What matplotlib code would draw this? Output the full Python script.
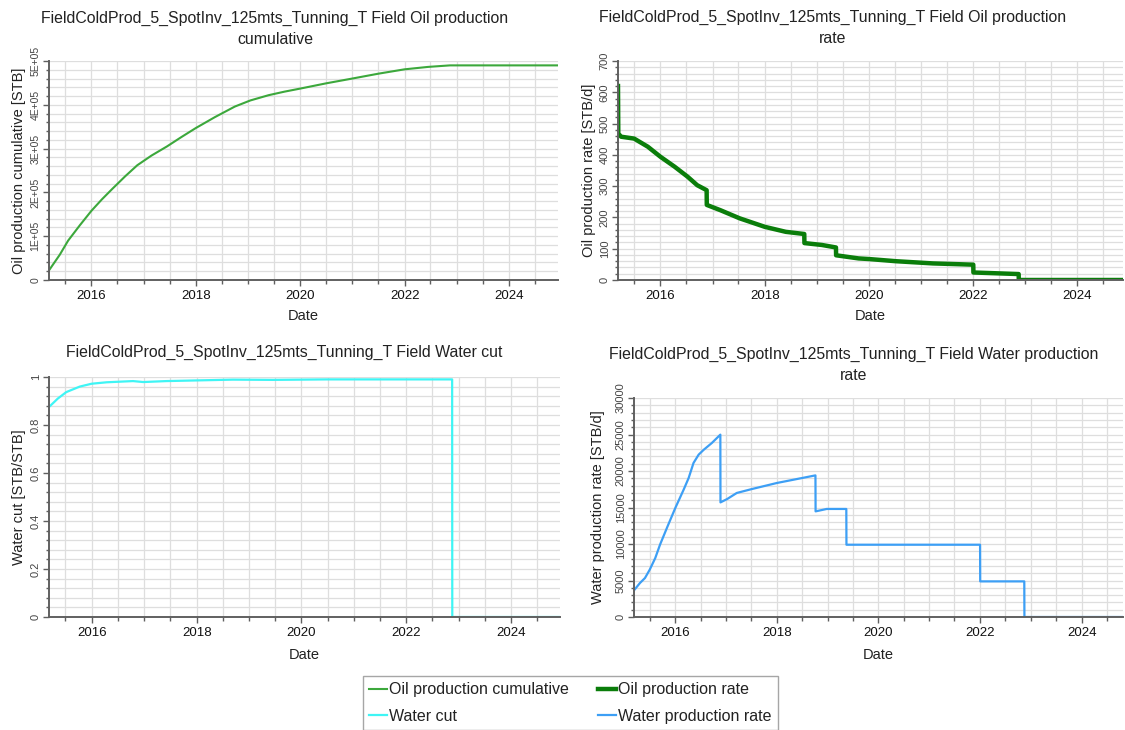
import matplotlib
matplotlib.use("Agg")
import matplotlib.pyplot as plt
import matplotlib.dates as mdates
from matplotlib.ticker import MultipleLocator, AutoMinorLocator, FuncFormatter
from matplotlib.lines import Line2D
import pandas as pd

plt.rcParams['font.family'] = ['Liberation Sans', 'DejaVu Sans']

case = "FieldColdProd_5_SpotInv_125mts_Tunning_T"

# Field oil production cumulative [STB]
oil_cum_dates = ["2015-03-10", "2015-05-25", "2015-07-22", "2015-10-12", "2016-01-01",
                 "2016-03-14", "2016-05-26", "2016-08-25", "2016-11-17", "2017-02-24",
                 "2017-06-13", "2017-09-20", "2018-01-01", "2018-05-15", "2018-10-01",
                 "2019-01-18", "2019-05-26", "2019-09-13", "2020-01-01", "2020-07-01",
                 "2021-01-01", "2021-07-01", "2022-01-01", "2022-06-14", "2022-11-15",
                 "2025-01-01"]
oil_cum_values = [22000, 58000, 90000, 125000, 158000,
                  184000, 208000, 237000, 262000, 284000,
                  305000, 326000, 347000, 372000, 396000,
                  410000, 422000, 430000, 437000, 449000,
                  460000, 471000, 481000, 486500, 490000,
                  490000]

# Field oil production rate [STB/d]
oil_rate_dates = ["2015-03-10", "2015-03-12", "2015-04-01", "2015-07-01", "2015-10-05",
                  "2016-01-01", "2016-04-10", "2016-07-10", "2016-09-15", "2016-11-20",
                  "2016-11-21", "2017-02-25", "2017-07-10", "2018-01-01", "2018-05-28",
                  "2018-10-05", "2018-10-06", "2019-02-05", "2019-05-15", "2019-05-16",
                  "2019-10-20", "2020-01-01", "2020-07-10", "2021-03-25", "2022-01-01",
                  "2022-01-02", "2022-11-15", "2022-11-16", "2025-01-01"]
oil_rate_values = [620, 468, 458, 452, 426,
                   394, 362, 330, 303, 287,
                   240, 223, 197, 170, 154,
                   147, 118, 112, 104, 79,
                   69, 67, 60, 53, 49,
                   24, 19, 0, 0]

# Field water cut [STB/STB]
water_cut_dates = ["2015-03-10", "2015-05-10", "2015-07-08", "2015-10-10", "2016-01-01",
                   "2016-04-15", "2016-10-15", "2016-12-25", "2017-06-05", "2018-01-20",
                   "2018-09-10", "2019-06-15", "2020-07-01", "2022-11-15", "2022-11-16",
                   "2025-01-01"]
water_cut_values = [0.875, 0.91, 0.937, 0.96, 0.972,
                    0.978, 0.983, 0.979, 0.983, 0.986,
                    0.989, 0.988, 0.99, 0.99, 0.0,
                    0.0]

# Field water production rate [STB/d]
water_rate_dates = ["2015-03-10", "2015-04-22", "2015-05-28", "2015-07-01", "2015-08-10",
                    "2015-09-13", "2015-11-06", "2016-01-01", "2016-03-01", "2016-04-06",
                    "2016-05-11", "2016-06-17", "2016-07-23", "2016-09-20", "2016-11-20",
                    "2016-11-21", "2017-01-08", "2017-03-18", "2017-07-05", "2018-01-01",
                    "2018-10-05", "2018-10-06", "2018-12-25", "2019-05-15", "2019-05-16",
                    "2022-01-01", "2022-01-02", "2022-11-15", "2022-11-16", "2025-01-01"]
water_rate_values = [3650, 4660, 5340, 6480, 8080,
                     9900, 12400, 14930, 17440, 19040,
                     21100, 22240, 22900, 23840, 24980,
                     15700, 16160, 16990, 17530, 18360,
                     19400, 14470, 14800, 14800, 9900,
                     9900, 4880, 4880, 0, 0]

C_CUM = "#3ca83c"
C_RATE = "#0a7d0a"
C_WCUT = "#3ff5f5"
C_WRATE = "#3d9ff5"

W, H = 1125, 730
fig = plt.figure(figsize=(W / 100, H / 100), dpi=100)


def px_axes(left, top, right, bottom):
    return fig.add_axes([left / W, 1 - bottom / H, (right - left) / W, (bottom - top) / H])


def style(ax, x_end, ylim, major, ylabel, fmt, ysize=8, ylabelpad=3, xlabelpad=5):
    ax.set_xlim(pd.Timestamp("2015-03-10"), pd.Timestamp(x_end))
    ax.set_ylim(*ylim)
    ax.xaxis.set_major_locator(mdates.YearLocator(2))
    ax.xaxis.set_minor_locator(mdates.MonthLocator(bymonth=(1, 7)))
    ax.xaxis.set_major_formatter(mdates.DateFormatter("%Y"))
    ax.yaxis.set_major_locator(MultipleLocator(major))
    ax.yaxis.set_minor_locator(AutoMinorLocator(5))
    ax.yaxis.set_major_formatter(FuncFormatter(fmt))
    ax.grid(True, which="both", color="#dedede", linewidth=0.9)
    ax.set_axisbelow(True)
    for s in ("top", "right"):
        ax.spines[s].set_visible(False)
    for s in ("left", "bottom"):
        ax.spines[s].set_color("#606060")
        ax.spines[s].set_linewidth(1.4)
    ax.tick_params(axis="x", which="major", length=4, width=1, color="#606060",
                   labelsize=9.5, labelcolor="#111111", pad=3)
    ax.tick_params(axis="x", which="minor", length=3, width=1, color="#606060")
    ax.tick_params(axis="y", which="major", length=4, width=1, color="#606060",
                   labelsize=ysize, labelcolor="#444444", pad=2)
    ax.tick_params(axis="y", which="minor", length=2.5, width=1, color="#606060")
    for lab in ax.get_yticklabels():
        lab.set_rotation(90)
        lab.set_va("center")
    ax.set_xlabel("Date", fontsize=10.5, color="#222222", labelpad=xlabelpad)
    ax.set_ylabel(ylabel, fontsize=10.5, color="#222222", labelpad=ylabelpad)


def dates(lst):
    return pd.to_datetime(lst)


def sci(v, _):
    return "0" if v == 0 else f"{v:.0E}"


def plain(v, _):
    return f"{v:g}"


# Oil production cumulative
ax1 = px_axes(49, 61, 558, 280)
ax1.plot(dates(oil_cum_dates), oil_cum_values, color=C_CUM, lw=1.5)
style(ax1, "2024-12-10", (0, 500000), 100000, "Oil production cumulative [STB]", sci,
      ysize=7.5)

# Oil production rate
ax2 = px_axes(618, 61, 1123, 280)
ax2.plot(dates(oil_rate_dates), oil_rate_values, color=C_RATE, lw=3.2)
style(ax2, "2024-11-15", (0, 700), 100, "Oil production rate [STB/d]", plain)

# Water cut
ax3 = px_axes(49, 377, 560, 617)
ax3.plot(dates(water_cut_dates), water_cut_values, color=C_WCUT, lw=1.6)
style(ax3, "2024-12-05", (0, 1), 0.2, "Water cut [STB/STB]", plain, xlabelpad=7)

# Water production rate
ax4 = px_axes(634, 398, 1123, 617)
ax4.plot(dates(water_rate_dates), water_rate_values, color=C_WRATE, lw=1.6)
style(ax4, "2024-10-25", (0, 30000), 5000, "Water production rate [STB/d]", plain,
      ylabelpad=8, xlabelpad=7)

title_kw = dict(fontsize=11.4, color="#222222", ha="center", va="center", linespacing=1.55)
fig.text(275 / W, 1 - 29 / H, f"{case} Field Oil production\ncumulative", **title_kw)
fig.text(833 / W, 1 - 28 / H, f"{case} Field Oil production\nrate", **title_kw)
fig.text(284 / W, 1 - 352 / H, f"{case} Field Water cut", **title_kw)
fig.text(854 / W, 1 - 365 / H, f"{case} Field Water production\nrate", **title_kw)

handles = [
    Line2D([], [], color=C_CUM, lw=1.5),
    Line2D([], [], color=C_WCUT, lw=1.6),
    Line2D([], [], color=C_RATE, lw=3.2),
    Line2D([], [], color=C_WRATE, lw=1.6),
]
labels = ["Oil production cumulative", "Water cut", "Oil production rate", "Water production rate"]
leg = fig.legend(handles, labels, ncol=2, loc="upper left",
                 bbox_to_anchor=(363 / W, 1 - 676 / H), fontsize=11.5,
                 frameon=True, fancybox=False, edgecolor="#909090",
                 handlelength=1.1, handletextpad=0.15, columnspacing=1.8,
                 borderpad=0.4, labelspacing=0.72, borderaxespad=0)
leg.get_frame().set_linewidth(1.0)
for t in leg.get_texts():
    t.set_color("#222222")

fig.savefig("out.png", dpi=100)
